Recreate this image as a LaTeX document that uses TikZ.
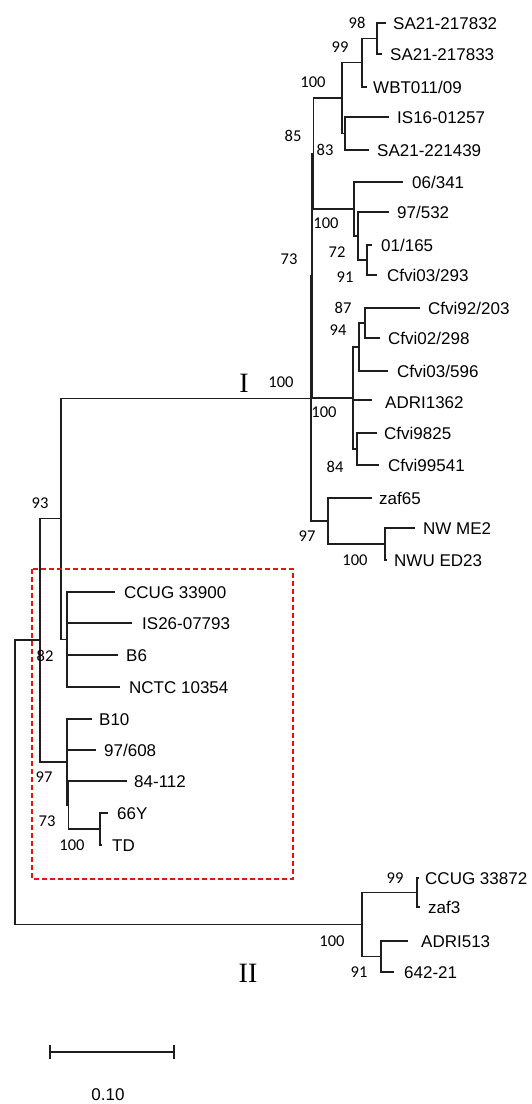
\documentclass[tikz,border=0pt]{standalone}
\usepackage{fontspec}
\setmainfont{Liberation Sans}
\newfontfamily\bsfont{Carlito}
\newfontfamily\romfont{Liberation Serif}
\definecolor{boxred}{RGB}{228,20,20}
\definecolor{linegray}{RGB}{30,30,30}
\begin{document}
\begin{tikzpicture}[x=1pt,y=-1pt,
  br/.style={draw=linegray, line width=1.4pt},
  tip/.style={anchor=west, inner sep=0pt, font=\fontsize{17}{17}\selectfont, text height=12.2pt, text depth=0pt},
  bs/.style={inner sep=0pt, font=\bsfont\fontsize{16.5}{16.5}\selectfont, text height=10.4pt, text depth=0pt},
  clade/.style={inner sep=0pt, font=\romfont\fontsize{28}{28}\selectfont, text height=18.5pt, text depth=0pt},
  hlbox/.style={draw=boxred, dash pattern=on 5pt off 3pt, line width=1.3pt}]
\useasboundingbox (0,0) rectangle (532,1104);

% ---------- clade A1
\coordinate (t1) at (386,23);
\coordinate (t2) at (382,54);
\coordinate (a98) at (377,38.5);
\coordinate (t3) at (367,87);
\coordinate (a99) at (362,62.75);
\coordinate (t4) at (389,117);
\coordinate (t5) at (369,150);
\coordinate (aIS) at (345,133.5);
\coordinate (aA1) at (342,98.1);
% ---------- clade A2
\coordinate (t6) at (403,182);
\coordinate (t7) at (389,212);
\coordinate (t8) at (372,245);
\coordinate (t9) at (377,275);
\coordinate (a72) at (367,260);
\coordinate (a91) at (358,236);
\coordinate (aA2) at (354,209);
\coordinate (n85) at (313.5,153.5);
% ---------- clade B
\coordinate (t10) at (420,308);
\coordinate (t11) at (380,338);
\coordinate (b87) at (365,323);
\coordinate (t12) at (388,371);
\coordinate (b94) at (359,347);
\coordinate (t13) at (372,400);
\coordinate (t14) at (377,433);
\coordinate (t15) at (379,465);
\coordinate (b84) at (357,449);
\coordinate (bB) at (353,398);
\coordinate (nX) at (312,275.7);
% ---------- clade C
\coordinate (t16) at (372,498);
\coordinate (t17) at (415,528);
\coordinate (t18) at (387,560);
\coordinate (c100) at (385,544);
\coordinate (cC) at (328,521);
\coordinate (nR) at (311,398.4);
% ---------- left part
\coordinate (nL) at (61,518.7);
\coordinate (t19) at (115,592);
\coordinate (t20) at (132,623);
\coordinate (t21) at (118,655);
\coordinate (t22) at (120,687);
\coordinate (p1) at (67,639.5);
\coordinate (n82) at (40,640);
\coordinate (t23) at (92,719);
\coordinate (t24) at (96,750);
\coordinate (t25) at (127,781);
\coordinate (t26) at (108,813);
\coordinate (t27) at (102,845);
\coordinate (n66) at (100,829);
\coordinate (n73) at (68.5,805);
\coordinate (n97) at (67,762);
\coordinate (root) at (15,782);
% ---------- clade II
\coordinate (t28) at (418.5,878);
\coordinate (t29) at (420,907);
\coordinate (n2a) at (417,892.5);
\coordinate (t30) at (408,941);
\coordinate (t31) at (394,972);
\coordinate (n2b) at (381,956.5);
\coordinate (n2) at (362,924.5);

% ---------- branches
\draw[br] (a98) |- (t1);
\draw[br] (a98) |- (t2);
\draw[br] (a99) |- (a98);
\draw[br] (a99) |- (t3);
\draw[br] (aIS) |- (t4);
\draw[br] (aIS) |- (t5);
\draw[br] (aA1) |- (a99);
\draw[br] (aA1) |- (aIS);
\draw[br] (a72) |- (t8);
\draw[br] (a72) |- (t9);
\draw[br] (a91) |- (t7);
\draw[br] (a91) |- (a72);
\draw[br] (aA2) |- (t6);
\draw[br] (aA2) |- (a91);
\draw[br] (n85) |- (aA1);
\draw[br] (n85) |- (aA2);
\draw[br] (b87) |- (t10);
\draw[br] (b87) |- (t11);
\draw[br] (b94) |- (b87);
\draw[br] (b94) |- (t12);
\draw[br] (b84) |- (t14);
\draw[br] (b84) |- (t15);
\draw[br] (bB) |- (b94);
\draw[br] (bB) |- (t13);
\draw[br] (bB) |- (b84);
\draw[br] (nX) |- (n85);
\draw[br] (nX) |- (bB);
\draw[br] (c100) |- (t17);
\draw[br] (c100) |- (t18);
\draw[br] (cC) |- (t16);
\draw[br] (cC) |- (c100);
\draw[br] (nR) |- (nX);
\draw[br] (nR) |- (cC);
\draw[br] (nL) |- (nR);
\draw[br] (nL) |- (p1);
\draw[br] (p1) |- (t19);
\draw[br] (p1) |- (t20);
\draw[br] (p1) |- (t21);
\draw[br] (p1) |- (t22);
\draw[br] (n66) |- (t26);
\draw[br] (n66) |- (t27);
\draw[br] (n73) |- (t25);
\draw[br] (n73) |- (n66);
\draw[br] (n97) |- (t23);
\draw[br] (n97) |- (t24);
\draw[br] (n97) |- (n73);
\draw[br] (n82) |- (nL);
\draw[br] (n82) |- (n97);
\draw[br] (n2a) |- (t28);
\draw[br] (n2a) |- (t29);
\draw[br] (n2b) |- (t30);
\draw[br] (n2b) |- (t31);
\draw[br] (n2) |- (n2a);
\draw[br] (n2) |- (n2b);
\draw[br] (root) |- (n82);
\draw[br] (root) |- (n2);

% ---------- tip labels
\node[tip] (l1) at (393,23) {SA21-217832};
\node[tip] (l2) at (390,54) {SA21-217833};
\node[tip] (l3) at (373,87) {WBT011/09};
\node[tip] (l4) at (397,117) {IS16-01257};
\node[tip] (l5) at (377,150) {SA21-221439};
\node[tip] (l6) at (412,182) {06/341};
\node[tip] (l7) at (397,212) {97/532};
\node[tip] (l8) at (381,245) {01/165};
\node[tip] (l9) at (387,275) {Cfvi03/293};
\node[tip] (l10) at (428,308) {Cfvi92/203};
\node[tip] (l11) at (388,338) {Cfvi02/298};
\node[tip] (l12) at (397,371) {Cfvi03/596};
\node[tip] (l13) at (385,402) {ADRI1362};
\node[tip] (l14) at (384,433) {Cfvi9825};
\node[tip] (l15) at (388,465) {Cfvi99541};
\node[tip] (l16) at (379,498) {zaf65};
\node[tip] (l17) at (423,528) {NW ME2};
\node[tip] (l18) at (394,560) {NWU ED23};
\node[tip] (l19) at (124,592) {CCUG 33900};
\node[tip] (l20) at (142,623) {IS26-07793};
\node[tip] (l21) at (126,655) {B6};
\node[tip] (l22) at (129,687) {NCTC 10354};
\node[tip] (l23) at (99,719) {B10};
\node[tip] (l24) at (104,750) {97/608};
\node[tip] (l25) at (134,781) {84-112};
\node[tip] (l26) at (117,813) {66Y};
\node[tip] (l27) at (112,845) {TD};
\node[tip] (l28) at (425,878) {CCUG 33872};
\node[tip] (l29) at (428,907) {zaf3};
\node[tip] (l30) at (421,941) {ADRI513};
\node[tip] (l31) at (404,972) {642-21};

% ---------- bootstrap values
\node[bs] (s1) at (357,23) {98};
\node[bs] (s2) at (340,47) {99};
\node[bs] (s3) at (313,82) {100};
\node[bs] (s4) at (293,136) {85};
\node[bs] (s5) at (325,150) {83};
\node[bs] (s6) at (326,223) {100};
\node[bs] (s7) at (289,259) {73};
\node[bs] (s8) at (337,252) {72};
\node[bs] (s9) at (345,277) {91};
\node[bs] (s10) at (343,308) {87};
\node[bs] (s11) at (338,330) {94};
\node[bs] (s12) at (281,382) {100};
\node[bs] (s13) at (324,412) {100};
\node[bs] (s14) at (335,467) {84};
\node[bs] (s15) at (307,536) {97};
\node[bs] (s16) at (355,560) {100};
\node[bs] (s17) at (40,503) {93};
\node[bs] (s18) at (45,656) {82};
\node[bs] (s19) at (44,777) {97};
\node[bs] (s20) at (47,821) {73};
\node[bs] (s21) at (72,845) {100};
\node[bs] (s22) at (395,878) {99};
\node[bs] (s23) at (332,941) {100};
\node[bs] (s24) at (359,972) {91};

% ---------- clade names
\node[clade] (cI) at (244,383) {I};
\node[clade] (cII) at (248,973) {II};

% ---------- highlight box
\draw[hlbox] (32,569) rectangle (293,879);

% ---------- scale bar
\coordinate (sb1) at (50,1052);
\coordinate (sb2) at (174,1052);
\draw[br] (sb1) -- (sb2);
\draw[br] ([yshift=-7pt]sb1) -- ([yshift=7pt]sb1);
\draw[br] ([yshift=-7pt]sb2) -- ([yshift=7pt]sb2);
\node[inner sep=0pt, font=\fontsize{17}{17}\selectfont, text height=12.2pt, text depth=0pt] (sbl) at (108,1094) {0.10};
\end{tikzpicture}
\end{document}
